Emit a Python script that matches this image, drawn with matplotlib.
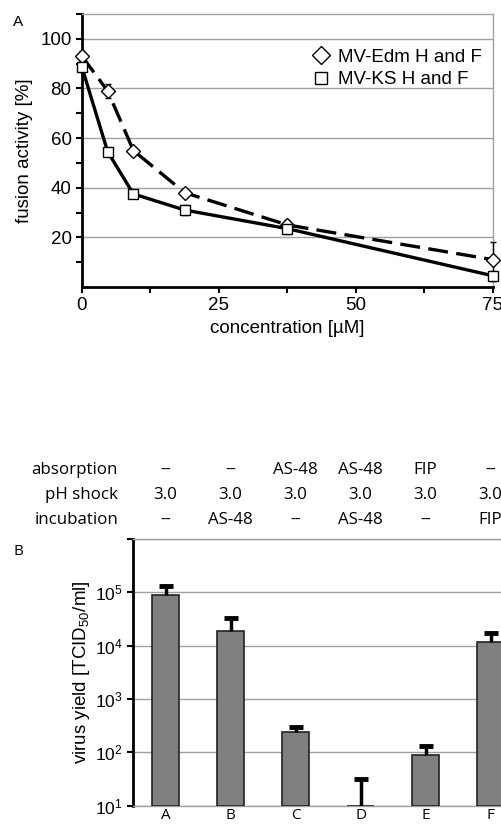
import numpy as np
import matplotlib
matplotlib.use("Agg")
import matplotlib.pyplot as plt

plt.rcParams['font.family'] = ['Liberation Sans', 'DejaVu Sans']
plt.rcParams['mathtext.fontset'] = 'custom'
plt.rcParams['mathtext.rm'] = 'Open Sans'
plt.rcParams['mathtext.default'] = 'regular'

# Panel A: fusion activity vs concentration
conc = [0, 4.69, 9.38, 18.75, 37.5, 75]
edm = [93, 79, 55, 38, 25, 11]
edm_err = [2, 3, 1.5, 1.5, 2, 7]
ks = [88.5, 54.5, 37.5, 31, 23.5, 4.5]
ks_err = [2, 1, 1.5, 2, 2, 2]

# Panel B: virus yield
conditions = ["A", "B", "C", "D", "E", "F"]
yield_vals = [8.9e4, 1.9e4, 237, 10, 89, 1.19e4]
yield_upper = [1.31e5, 3.27e4, 302, 31.6, 133, 1.75e4]
absorption = ["--", "--", "AS-48", "AS-48", "FIP", "--"]
ph_shock = ["3.0", "3.0", "3.0", "3.0", "3.0", "3.0"]
incubation = ["--", "AS-48", "--", "AS-48", "--", "FIP"]

fig = plt.figure(figsize=(5.02, 8.27), dpi=100)

# ---- panel A ----
ax1 = fig.add_axes([0.1633, 0.653, 0.8187, 0.330])
ax1.errorbar(conc, edm, yerr=edm_err, color="black", lw=2.4, ls=(0, (6, 2.5)),
             marker="D", ms=7.5, mfc="white", mec="black", mew=1.0,
             ecolor="black", elinewidth=1, capsize=2.5, zorder=3, clip_on=False)
ax1.errorbar(conc, ks, yerr=ks_err, color="black", lw=2.4, ls="-",
             marker="s", ms=7.5, mfc="white", mec="black", mew=1.0,
             ecolor="black", elinewidth=1, capsize=2.5, zorder=3, clip_on=False)
# legend handles: markers only
h1, = ax1.plot([], [], ls="none", marker="D", ms=9, mfc="white", mec="black", mew=1)
h2, = ax1.plot([], [], ls="none", marker="s", ms=9, mfc="white", mec="black", mew=1)
ax1.legend([h1, h2], ["MV-Edm H and F", "MV-KS H and F"], loc="upper right",
           bbox_to_anchor=(1.0, 0.915), frameon=False, fontsize=13.5,
           handletextpad=0.3, labelspacing=0.3, handlelength=1.2, borderaxespad=0.2)
ax1.set_xlim(0, 75)
ax1.set_ylim(0, 110)
ax1.set_xticks([0, 25, 50, 75])
ax1.set_xticks([12.5, 37.5, 62.5], minor=True)
ax1.set_yticks([20, 40, 60, 80, 100])
ax1.set_yticks([10, 30, 50, 70, 90, 110], minor=True)
ax1.yaxis.grid(True, color="#a0a0a0", lw=1)
ax1.set_axisbelow(True)
for s in ["left", "bottom"]:
    ax1.spines[s].set_linewidth(2)
    ax1.spines[s].set_color("black")
for s in ["top", "right"]:
    ax1.spines[s].set_linewidth(1)
    ax1.spines[s].set_color("#a0a0a0")
ax1.tick_params(axis="both", which="both", direction="out", width=1.5, length=4,
                labelsize=13.5, top=False, right=False)
ax1.set_xlabel("concentration [µM]", fontsize=13.5, labelpad=4)
ax1.set_ylabel("fusion activity [%]", fontsize=13.5, labelpad=5)
fig.text(0.036, 0.973, "A", fontsize=11, ha="center", va="center")

# ---- panel B ----
ax2 = fig.add_axes([0.265, 0.0258, 0.777, 0.3225])
x = np.arange(len(conditions))
bottom = 10
heights = [v - bottom for v in yield_vals]
ax2.bar(x, heights, bottom=bottom, width=0.41, color="#808080",
        edgecolor="#222222", linewidth=1.2, zorder=3)
# upper-only error bars: stem plus cap
ax2.vlines(x, yield_vals, yield_upper, color="black", lw=2.5, zorder=4)
ax2.plot(x, yield_upper, ls="none", marker="_", ms=10, mew=3.5, color="black", zorder=4)
ax2.set_yscale("log")
ax2.set_ylim(10, 1e6)
ax2.set_xlim(-0.5, 5.5)
ax2.set_yticks([1e1, 1e2, 1e3, 1e4, 1e5, 1e6])
ax2.set_yticklabels(["$10^{1}$", "$10^{2}$", "$10^{3}$", "$10^{4}$", "$10^{5}$", ""])
ax2.yaxis.set_minor_locator(matplotlib.ticker.NullLocator())
ax2.set_xticks(x)
ax2.set_xticklabels(conditions, fontfamily="Open Sans")
ax2.yaxis.grid(True, color="#a0a0a0", lw=1)
ax2.set_axisbelow(True)
ax2.spines["left"].set_linewidth(2)
ax2.spines["left"].set_color("black")
for s in ["top", "right", "bottom"]:
    ax2.spines[s].set_linewidth(1)
    ax2.spines[s].set_color("#a0a0a0")
ax2.tick_params(axis="y", direction="out", width=1.5, length=4, labelsize=12.5)
ax2.tick_params(axis="x", length=0, labelsize=11, pad=2)
ax2.set_ylabel("virus yield [TCID$_{50}$/ml]", fontsize=13.5, fontfamily="Liberation Sans", labelpad=2)

tr = ax2.get_xaxis_transform()
rows = [("absorption", absorption, 1.259), ("pH shock", ph_shock, 1.165),
        ("incubation", incubation, 1.071)]
for name, vals, yy in rows:
    ax2.text(-0.73, yy, name, transform=tr, ha="right", va="center",
             fontsize=12.2, fontfamily="Open Sans")
    for xi, v in zip(x, vals):
        ax2.text(xi, yy, v, transform=tr, ha="center", va="center",
                 fontsize=12.2, fontfamily="Open Sans")
fig.text(0.036, 0.333, "B", fontsize=11, ha="center", va="center", fontfamily="Open Sans")

fig.savefig("out.png", dpi=100)
